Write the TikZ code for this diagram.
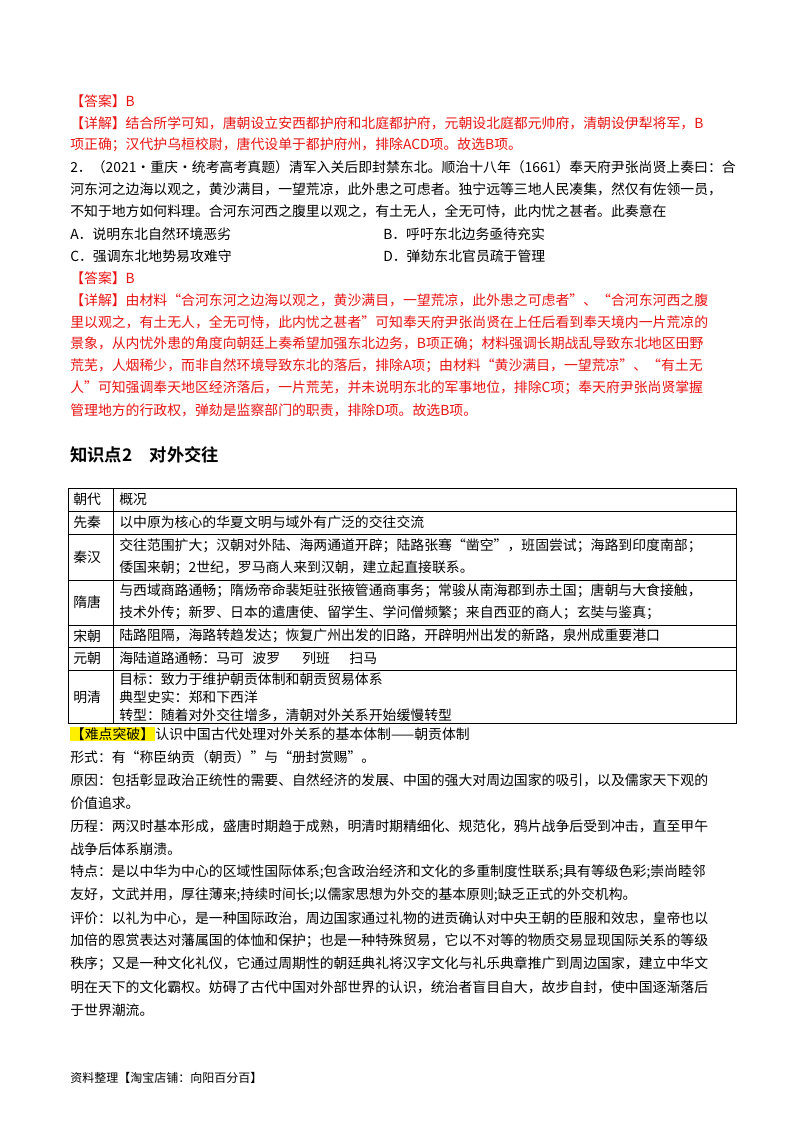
\documentclass[tikz,border=0pt]{standalone}
\usepackage{fontspec}
\setmainfont{Noto Sans CJK SC}
\newfontfamily\hfont{Noto Sans CJK SC Bold}
\definecolor{ansred}{RGB}{232,20,20}
\definecolor{hlyel}{RGB}{255,240,0}
\begin{document}
\begin{tikzpicture}[x=0.75pt,y=-0.75pt,
  txt/.style={anchor=west,inner sep=0pt,font=\fontsize{10.4pt}{12pt}\selectfont},
  red/.style={txt,text=ansred},
  cell/.style={draw=black,line width=0.6pt}]
\useasboundingbox (0,0) rectangle (800,1132);
\fill[white] (0,0) rectangle (800,1132);
% top section
\node[red] (l1) at (70,101) {【答案】B};
\node[red] (l2) at (70,123) {【详解】结合所学可知，唐朝设立安西都护府和北庭都护府，元朝设北庭都元帅府，清朝设伊犁将军，B};
\node[red] (l3) at (70,145) {项正确；汉代护乌桓校尉，唐代设单于都护府州，排除ACD项。故选B项。};
\node[txt] (l4) at (70,167) {2．（2021·重庆·统考高考真题）清军入关后即封禁东北。顺治十八年（1661）奉天府尹张尚贤上奏曰：合};
\node[txt] (l5) at (70,189) {河东河之边海以观之，黄沙满目，一望荒凉，此外患之可虑者。独宁远等三地人民凑集，然仅有佐领一员，};
\node[txt] (l6) at (70,211) {不知于地方如何料理。合河东河西之腹里以观之，有土无人，全无可恃，此内忧之甚者。此奏意在};
\node[txt] (oa) at (70,234) {A．说明东北自然环境恶劣};
\node[txt] (ob) at (383,234) {B．呼吁东北边务亟待充实};
\node[txt] (oc) at (70,256) {C．强调东北地势易攻难守};
\node[txt] (od) at (383,256) {D．弹劾东北官员疏于管理};
\node[red] (m1) at (70,278) {【答案】B};
\node[red] (m2) at (70,300) {【详解】由材料“合河东河之边海以观之，黄沙满目，一望荒凉，此外患之可虑者”、“合河东河西之腹};
\node[red] (m3) at (70,322) {里以观之，有土无人，全无可恃，此内忧之甚者”可知奉天府尹张尚贤在上任后看到奉天境内一片荒凉的};
\node[red] (m4) at (70,344) {景象，从内忧外患的角度向朝廷上奏希望加强东北边务，B项正确；材料强调长期战乱导致东北地区田野};
\node[red] (m5) at (70,366) {荒芜，人烟稀少，而非自然环境导致东北的落后，排除A项；由材料“黄沙满目，一望荒凉”、“有土无};
\node[red] (m6) at (70,388) {人”可知强调奉天地区经济落后，一片荒芜，并未说明东北的军事地位，排除C项；奉天府尹张尚贤掌握};
\node[red] (m7) at (70,410) {管理地方的行政权，弹劾是监察部门的职责，排除D项。故选B项。};
\node[anchor=west,inner sep=0pt,font=\hfont\fontsize{13pt}{15pt}\selectfont] (hd) at (70,455) {知识点2\hspace{1em}对外交往};
% table
\draw[cell] (68,488) rectangle (736,723);
\draw[cell] (113,488) -- (113,723);
\foreach \yy in {511,534,580,625,647,670} \draw[cell] (68,\yy) -- (736,\yy);
\node[txt] (c1) at (73,499.5) {朝代}; \node[txt] (d1) at (119,499.5) {概况};
\node[txt] (c2) at (73,522.5) {先秦}; \node[txt] (d2) at (119,522.5) {以中原为核心的华夏文明与域外有广泛的交往交流};
\node[txt] (c3) at (73,557) {秦汉};
\node[txt] (d3a) at (119,546) {交往范围扩大；汉朝对外陆、海两通道开辟；陆路张骞“凿空”，班固尝试；海路到印度南部；};
\node[txt] (d3b) at (119,568) {倭国来朝；2世纪，罗马商人来到汉朝，建立起直接联系。};
\node[txt] (c4) at (73,602.5) {隋唐};
\node[txt] (d4a) at (119,591) {与西域商路通畅；隋炀帝命裴矩驻张掖管通商事务；常骏从南海郡到赤土国；唐朝与大食接触，};
\node[txt] (d4b) at (119,613) {技术外传；新罗、日本的遣唐使、留学生、学问僧频繁；来自西亚的商人；玄奘与鉴真；};
\node[txt] (c5) at (73,636) {宋朝}; \node[txt] (d5) at (119,636) {陆路阻隔，海路转趋发达；恢复广州出发的旧路，开辟明州出发的新路，泉州成重要港口};
\node[txt] (c6) at (73,658.5) {元朝}; \node[txt] (d6) at (119,658.5) {海陆道路通畅：马可\hspace{0.6em}波罗\hspace{1.6em}列班\hspace{1.4em}扫马};
\node[txt] (c7) at (73,697) {明清};
\node[txt] (d7a) at (119,679) {目标：致力于维护朝贡体制和朝贡贸易体系};
\node[txt] (d7b) at (119,697) {典型史实：郑和下西洋};
\node[txt] (d7c) at (119,715) {转型：随着对外交往增多，清朝对外关系开始缓慢转型};
% bottom
\node[txt,fill=hlyel,inner sep=0.5pt] (nd) at (70,734) {【难点突破】};
\node[txt,anchor=west] (nd2) at (nd.east) {认识中国古代处理对外关系的基本体制——朝贡体制};
\node[txt] (b1) at (70,757) {形式：有“称臣纳贡（朝贡）”与“册封赏赐”。};
\node[txt] (b2) at (70,780) {原因：包括彰显政治正统性的需要、自然经济的发展、中国的强大对周边国家的吸引，以及儒家天下观的};
\node[txt] (b3) at (70,803) {价值追求。};
\node[txt] (b4) at (70,826) {历程：两汉时基本形成，盛唐时期趋于成熟，明清时期精细化、规范化，鸦片战争后受到冲击，直至甲午};
\node[txt] (b5) at (70,849) {战争后体系崩溃。};
\node[txt] (b6) at (70,872) {特点：是以中华为中心的区域性国际体系;包含政治经济和文化的多重制度性联系;具有等级色彩;崇尚睦邻};
\node[txt] (b7) at (70,895) {友好，文武并用，厚往薄来;持续时间长;以儒家思想为外交的基本原则;缺乏正式的外交机构。};
\node[txt] (b8) at (70,918) {评价：以礼为中心，是一种国际政治，周边国家通过礼物的进贡确认对中央王朝的臣服和效忠，皇帝也以};
\node[txt] (b9) at (70,941) {加倍的恩赏表达对藩属国的体恤和保护；也是一种特殊贸易，它以不对等的物质交易显现国际关系的等级};
\node[txt] (b10) at (70,964) {秩序；又是一种文化礼仪，它通过周期性的朝廷典礼将汉字文化与礼乐典章推广到周边国家，建立中华文};
\node[txt] (b11) at (70,987) {明在天下的文化霸权。妨碍了古代中国对外部世界的认识，统治者盲目自大，故步自封，使中国逐渐落后};
\node[txt] (b12) at (70,1010) {于世界潮流。};
\node[anchor=west,inner sep=0pt,font=\fontsize{9pt}{11pt}\selectfont] (ft) at (70,1078) {资料整理【淘宝店铺：向阳百分百】};
\end{tikzpicture}
\end{document}
